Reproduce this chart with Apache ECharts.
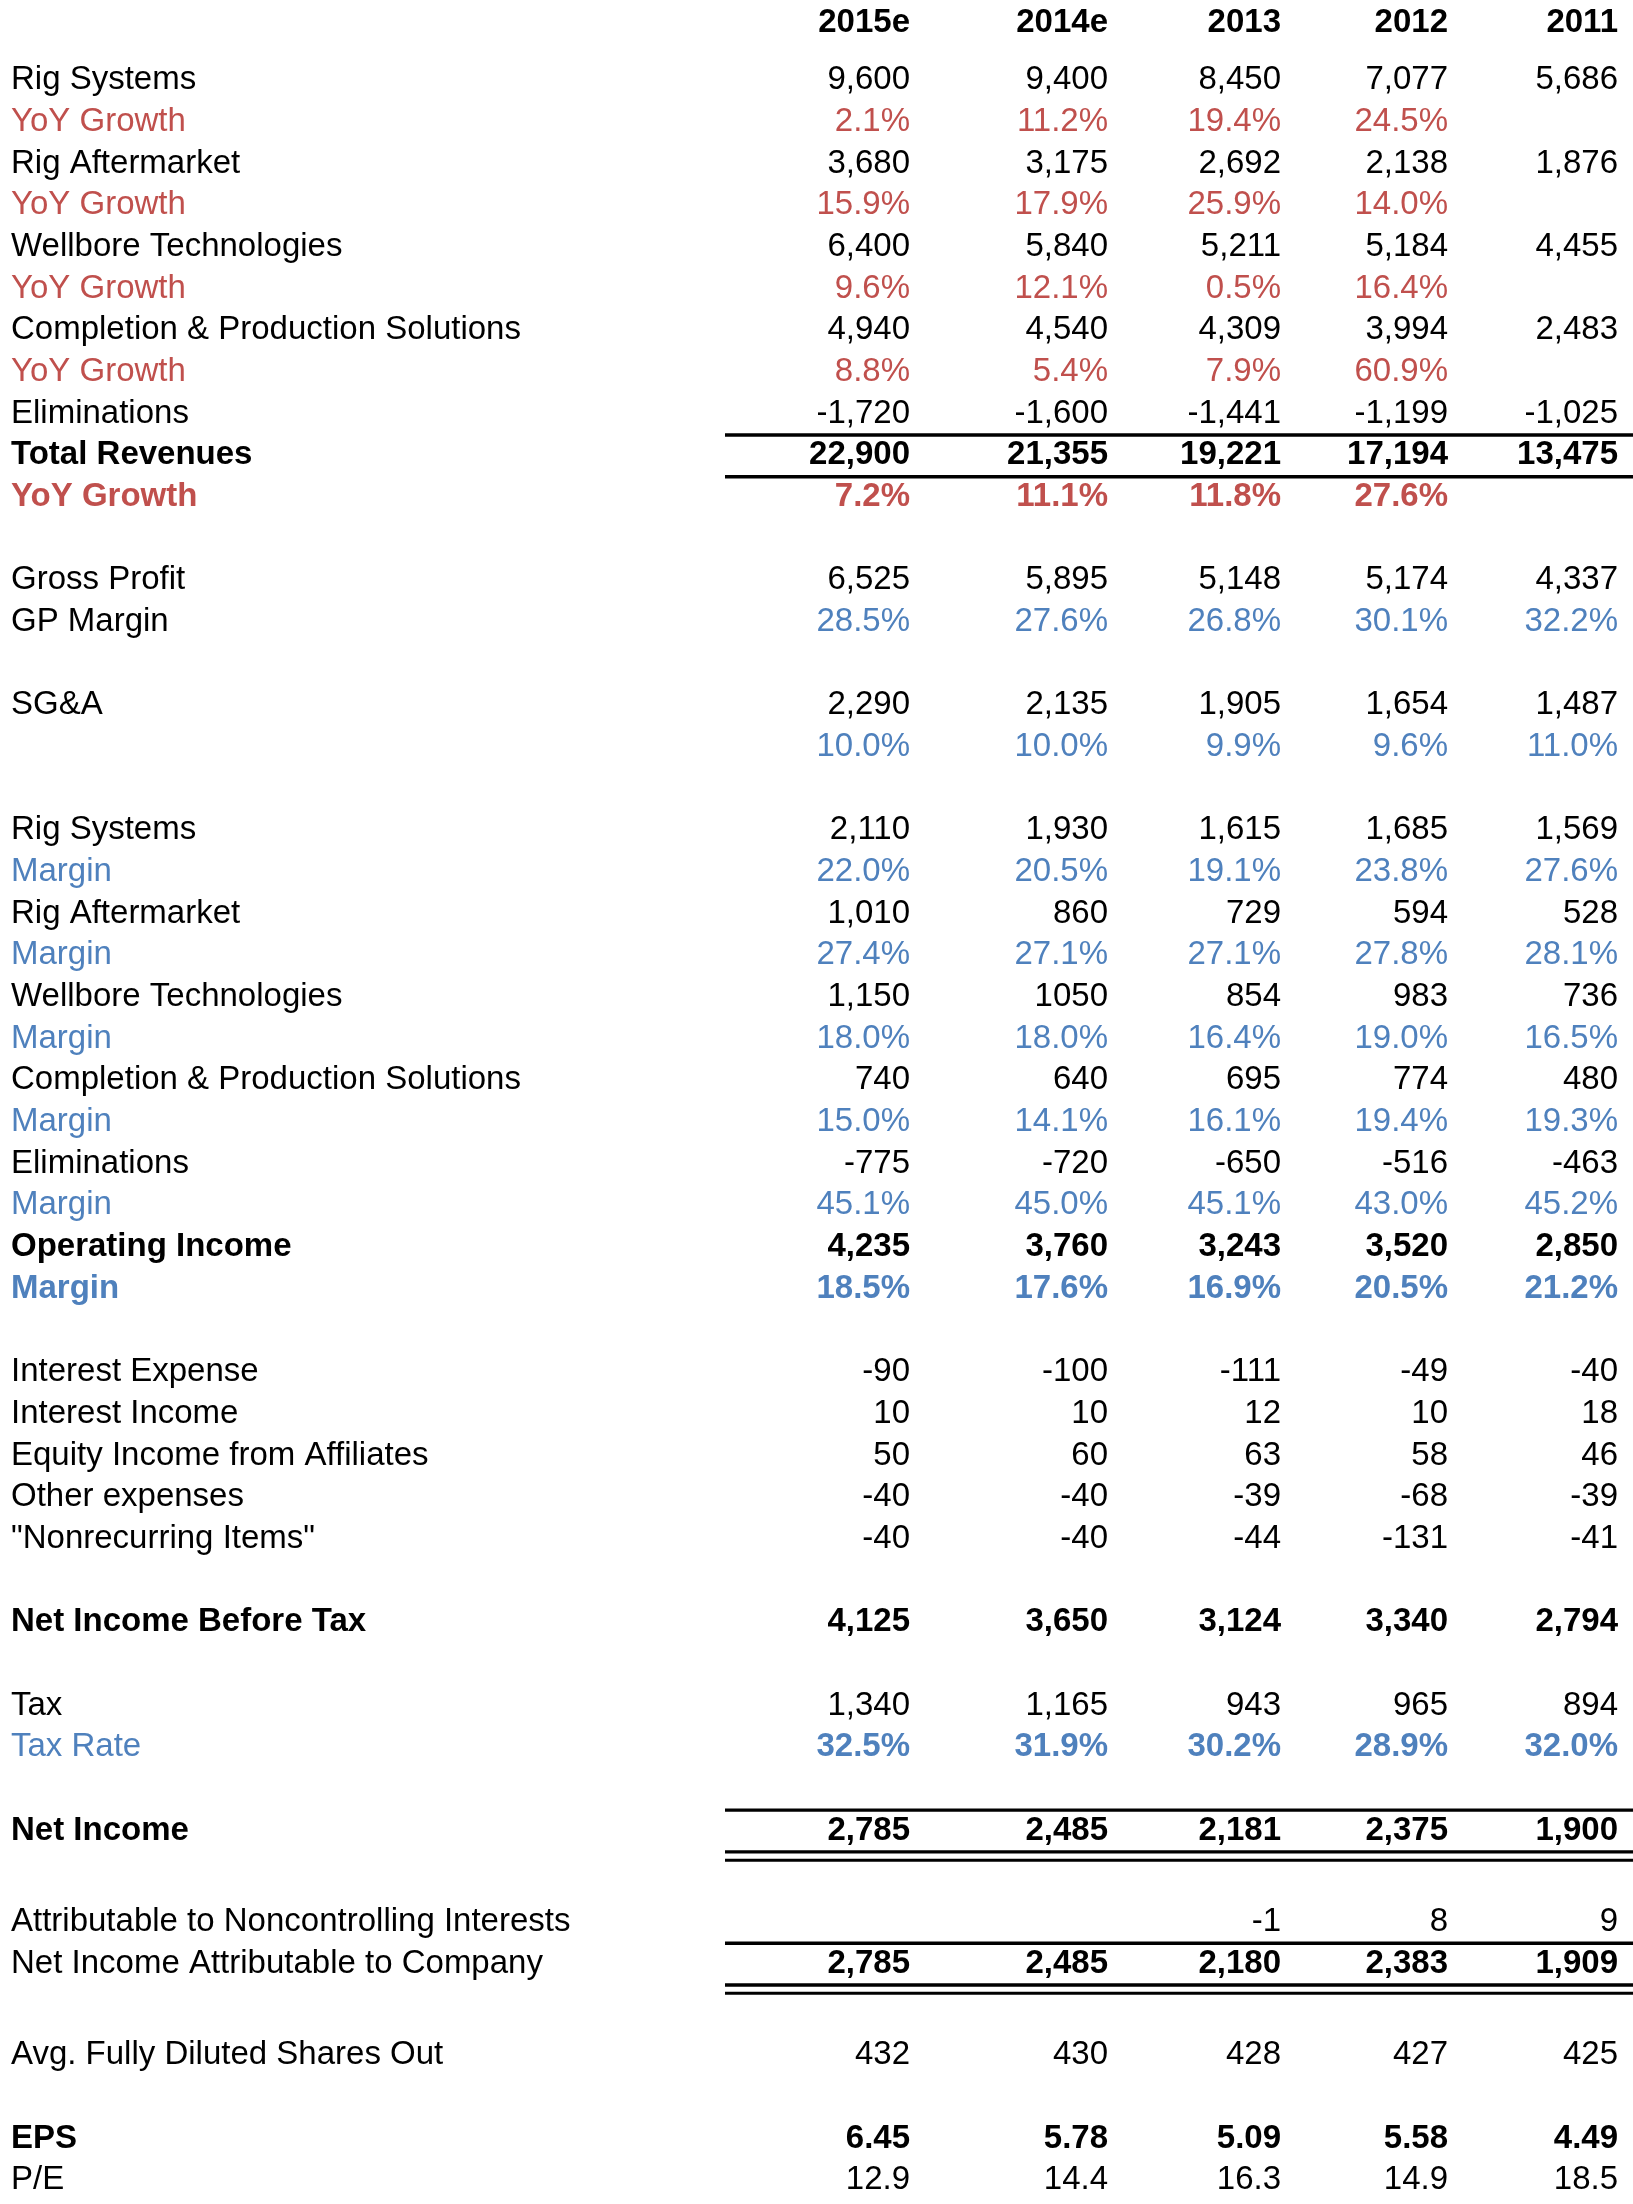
<!DOCTYPE html>
<html lang="en" style="background: #FFFFFF;height: 100%">

<head>
    <meta charset="utf-8" />
    <title>Income statement</title>
    <script type="text/javascript" src="https://cdn.jsdelivr.net/npm/echarts@6/dist/echarts.min.js"></script>
</head>

<body style="margin: 0;height: 100%">
    <div id="chart" style="width:1633px;height:2204px"></div>
    <script>
    let years = ['2015e', '2014e', '2013', '2012', '2011']

    // revenues by segment
    let rigSystemsRev = ['9,600', '9,400', '8,450', '7,077', '5,686']
    let rigSystemsYoY = ['2.1%', '11.2%', '19.4%', '24.5%', '']
    let rigAfterRev = ['3,680', '3,175', '2,692', '2,138', '1,876']
    let rigAfterYoY = ['15.9%', '17.9%', '25.9%', '14.0%', '']
    let wellboreRev = ['6,400', '5,840', '5,211', '5,184', '4,455']
    let wellboreYoY = ['9.6%', '12.1%', '0.5%', '16.4%', '']
    let completionRev = ['4,940', '4,540', '4,309', '3,994', '2,483']
    let completionYoY = ['8.8%', '5.4%', '7.9%', '60.9%', '']
    let eliminationsRev = ['-1,720', '-1,600', '-1,441', '-1,199', '-1,025']
    let totalRev = ['22,900', '21,355', '19,221', '17,194', '13,475']
    let totalYoY = ['7.2%', '11.1%', '11.8%', '27.6%', '']

    let grossProfit = ['6,525', '5,895', '5,148', '5,174', '4,337']
    let gpMargin = ['28.5%', '27.6%', '26.8%', '30.1%', '32.2%']
    let sga = ['2,290', '2,135', '1,905', '1,654', '1,487']
    let sgaPct = ['10.0%', '10.0%', '9.9%', '9.6%', '11.0%']

    // operating profit by segment
    let rigSystemsOp = ['2,110', '1,930', '1,615', '1,685', '1,569']
    let rigSystemsMargin = ['22.0%', '20.5%', '19.1%', '23.8%', '27.6%']
    let rigAfterOp = ['1,010', '860', '729', '594', '528']
    let rigAfterMargin = ['27.4%', '27.1%', '27.1%', '27.8%', '28.1%']
    let wellboreOp = ['1,150', '1050', '854', '983', '736']
    let wellboreMargin = ['18.0%', '18.0%', '16.4%', '19.0%', '16.5%']
    let completionOp = ['740', '640', '695', '774', '480']
    let completionMargin = ['15.0%', '14.1%', '16.1%', '19.4%', '19.3%']
    let eliminationsOp = ['-775', '-720', '-650', '-516', '-463']
    let eliminationsMargin = ['45.1%', '45.0%', '45.1%', '43.0%', '45.2%']
    let opIncome = ['4,235', '3,760', '3,243', '3,520', '2,850']
    let opMargin = ['18.5%', '17.6%', '16.9%', '20.5%', '21.2%']

    let interestExp = ['-90', '-100', '-111', '-49', '-40']
    let interestInc = ['10', '10', '12', '10', '18']
    let equityInc = ['50', '60', '63', '58', '46']
    let otherExp = ['-40', '-40', '-39', '-68', '-39']
    let nonrecurring = ['-40', '-40', '-44', '-131', '-41']
    let preTax = ['4,125', '3,650', '3,124', '3,340', '2,794']
    let tax = ['1,340', '1,165', '943', '965', '894']
    let taxRate = ['32.5%', '31.9%', '30.2%', '28.9%', '32.0%']
    let netIncome = ['2,785', '2,485', '2,181', '2,375', '1,900']
    let minority = ['', '', '-1', '8', '9']
    let netToCompany = ['2,785', '2,485', '2,180', '2,383', '1,909']
    let shares = ['432', '430', '428', '427', '425']
    let eps = ['6.45', '5.78', '5.09', '5.58', '4.49']
    let pe = ['12.9', '14.4', '16.3', '14.9', '18.5']

    const RED = '#c0504d'
    const BLUE = '#4f81bd'
    const BLACK = '#000000'
    const FONT = '"Liberation Sans", Arial, Helvetica, sans-serif'

    // label colour/bold, value colour/bold
    const styles = {
        n: { lc: BLACK, lb: false, vc: BLACK, vb: false },
        b: { lc: BLACK, lb: true, vc: BLACK, vb: true },
        bv: { lc: BLACK, lb: false, vc: BLACK, vb: true },
        red: { lc: RED, lb: false, vc: RED, vb: false },
        redB: { lc: RED, lb: true, vc: RED, vb: true },
        blueV: { lc: BLACK, lb: false, vc: BLUE, vb: false },
        blue: { lc: BLUE, lb: false, vc: BLUE, vb: false },
        blueB: { lc: BLUE, lb: true, vc: BLUE, vb: true },
        blueBV: { lc: BLUE, lb: false, vc: BLUE, vb: true }
    }

    // [label, values, style, bottom rules]  null = empty row
    let rows = [
        ['Rig Systems', rigSystemsRev, 'n'],
        ['YoY Growth', rigSystemsYoY, 'red'],
        ['Rig Aftermarket', rigAfterRev, 'n'],
        ['YoY Growth', rigAfterYoY, 'red'],
        ['Wellbore Technologies', wellboreRev, 'n'],
        ['YoY Growth', wellboreYoY, 'red'],
        ['Completion & Production Solutions', completionRev, 'n'],
        ['YoY Growth', completionYoY, 'red'],
        ['Eliminations', eliminationsRev, 'n'],
        ['Total Revenues', totalRev, 'b', 1],
        ['YoY Growth', totalYoY, 'redB'],
        null,
        ['Gross Profit', grossProfit, 'n'],
        ['GP Margin', gpMargin, 'blueV'],
        null,
        ['SG&A', sga, 'n'],
        ['', sgaPct, 'blueV'],
        null,
        ['Rig Systems', rigSystemsOp, 'n'],
        ['Margin', rigSystemsMargin, 'blue'],
        ['Rig Aftermarket', rigAfterOp, 'n'],
        ['Margin', rigAfterMargin, 'blue'],
        ['Wellbore Technologies', wellboreOp, 'n'],
        ['Margin', wellboreMargin, 'blue'],
        ['Completion & Production Solutions', completionOp, 'n'],
        ['Margin', completionMargin, 'blue'],
        ['Eliminations', eliminationsOp, 'n'],
        ['Margin', eliminationsMargin, 'blue'],
        ['Operating Income', opIncome, 'b'],
        ['Margin', opMargin, 'blueB'],
        null,
        ['Interest Expense', interestExp, 'n'],
        ['Interest Income', interestInc, 'n'],
        ['Equity Income from Affiliates', equityInc, 'n'],
        ['Other expenses', otherExp, 'n'],
        ['"Nonrecurring Items"', nonrecurring, 'n'],
        null,
        ['Net Income Before Tax', preTax, 'b'],
        null,
        ['Tax', tax, 'n'],
        ['Tax Rate', taxRate, 'blueBV'],
        null,
        ['Net Income', netIncome, 'b', 2],
        null,
        ['Attributable to Noncontrolling Interests', minority, 'n'],
        ['Net Income Attributable to Company', netToCompany, 'bv', 2],
        null,
        ['Avg. Fully Diluted Shares Out', shares, 'n'],
        null,
        ['EPS', eps, 'b'],
        ['P/E', pe, 'n']
    ]

    // layout (x in px along a 0..1633 axis, y in row units)
    const labelX = 11
    const colRight = [910, 1108, 1281, 1448, 1618]
    const ruleStart = 725
    const headerRow = -1.385
    const doubleGap = 0.196 // extra space after a double rule
    const textShift = 2.6 // px, text sits a bit below row centre

    function rowPos(i) {
        let extra = 0
        for (let k = 0; k < i; k++) {
            if (rows[k] && rows[k][3] == 2) extra += doubleGap
        }
        return i + extra
    }

    let cells = []
    years.forEach((yr, j) => {
        cells.push({ x: colRight[j], y: headerRow, text: yr, align: 'right', color: BLACK, bold: true })
    })
    let rules = []
    rows.forEach((r, i) => {
        if (!r) return
        let st = styles[r[2]]
        let y = rowPos(i)
        if (r[0]) cells.push({ x: labelX, y: y, text: r[0], align: 'left', color: st.lc, bold: st.lb })
        r[1].forEach((v, j) => {
            if (v) cells.push({ x: colRight[j], y: y, text: v, align: 'right', color: st.vc, bold: st.vb })
        })
        if (r[3]) {
            rules.push({ y: y, off: -17.7, w: 3.4 })
            rules.push({ y: y, off: 24, w: 3.4 })
            if (r[3] == 2) rules.push({ y: y, off: 32.3, w: 3 })
        }
    })

    let chart = echarts.init(document.getElementById('chart'))
    chart.setOption({
        backgroundColor: '#FFFFFF',
        animation: false,
        grid: { left: 0, right: 0, top: 77.7, height: 51 * 41.67 },
        xAxis: { type: 'value', min: 0, max: 1633, show: false },
        yAxis: { type: 'value', min: 0, max: 51, inverse: true, show: false },
        series: [{
                type: 'custom',
                clip: false,
                data: rules.map(l => [ruleStart, l.y]),
                renderItem: function(params, api) {
                    let l = rules[params.dataIndex]
                    let p1 = api.coord([api.value(0), api.value(1)])
                    let p2 = api.coord([1633, api.value(1)])
                    return {
                        type: 'line',
                        shape: { x1: p1[0], y1: p1[1] + l.off, x2: p2[0], y2: p2[1] + l.off },
                        style: { stroke: BLACK, lineWidth: l.w }
                    }
                }
            },
            {
                type: 'custom',
                clip: false,
                data: cells.map(c => [c.x, c.y]),
                renderItem: function(params, api) {
                    let c = cells[params.dataIndex]
                    let p = api.coord([api.value(0), api.value(1)])
                    return {
                        type: 'text',
                        x: p[0],
                        y: p[1] + textShift,
                        style: {
                            text: c.text,
                            fill: c.color,
                            fontSize: 33,
                            fontWeight: c.bold ? 'bold' : 'normal',
                            fontFamily: FONT,
                            align: c.align,
                            verticalAlign: 'middle'
                        }
                    }
                }
            }
        ]
    })
    </script>
</body>

</html>
